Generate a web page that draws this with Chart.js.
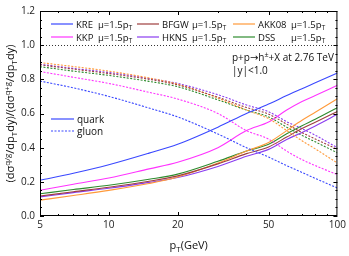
<!DOCTYPE html>
<html>
<head>
<meta charset="utf-8">
<script src="https://cdn.jsdelivr.net/npm/chart.js@4.4.0/dist/chart.umd.min.js"></script>
<style>
  html, body { margin: 0; padding: 0; background: #fff; }
</style>
</head>
<body>
<canvas id="ratioChart" width="349" height="256"></canvas>
<script>
const pT = [5, 7, 10, 15, 20, 30, 40, 50, 60, 70, 80, 100];
const xTickLabels = [5, 10, 20, 50, 100];
const yTickLabels = [0.0, 0.2, 0.4, 0.6, 0.8, 1.0, 1.2];

const pdfNames = ['KRE', 'BFGW', 'AKK08', 'KKP', 'HKNS', 'DSS'];

// quark fraction (solid lines)
const kreQuark   = [0.209, 0.25, 0.30, 0.368, 0.42, 0.52, 0.60, 0.655, 0.705, 0.745, 0.78, 0.837];
const bfgwQuark  = [0.117, 0.142, 0.168, 0.203, 0.235, 0.305, 0.365, 0.404, 0.462, 0.512, 0.549, 0.612];
const akk08Quark = [0.093, 0.12, 0.15, 0.19, 0.228, 0.31, 0.38, 0.43, 0.50, 0.56, 0.607, 0.686];
const kkpQuark   = [0.151, 0.186, 0.222, 0.276, 0.315, 0.40, 0.50, 0.55, 0.62, 0.67, 0.705, 0.765];
const hknsQuark  = [0.112, 0.137, 0.162, 0.197, 0.225, 0.29, 0.35, 0.39, 0.448, 0.489, 0.527, 0.595];
const dssQuark   = [0.13, 0.155, 0.18, 0.215, 0.245, 0.32, 0.38, 0.42, 0.481, 0.528, 0.566, 0.634];

// gluon fraction (dashed lines)
const kreGluon   = [0.79, 0.75, 0.70, 0.632, 0.58, 0.48, 0.40, 0.345, 0.295, 0.255, 0.22, 0.164];
const bfgwGluon  = [0.885, 0.86, 0.834, 0.80, 0.768, 0.695, 0.635, 0.596, 0.538, 0.488, 0.451, 0.39];
const akk08Gluon = [0.898, 0.875, 0.848, 0.808, 0.772, 0.69, 0.62, 0.57, 0.50, 0.44, 0.393, 0.31];
const kkpGluon   = [0.846, 0.812, 0.776, 0.724, 0.685, 0.60, 0.50, 0.45, 0.38, 0.33, 0.295, 0.242];
const hknsGluon  = [0.888, 0.864, 0.84, 0.805, 0.776, 0.71, 0.65, 0.61, 0.552, 0.511, 0.473, 0.40];
const dssGluon   = [0.874, 0.848, 0.823, 0.788, 0.757, 0.68, 0.62, 0.58, 0.52, 0.472, 0.434, 0.37];

const quarkSets = [kreQuark, bfgwQuark, akk08Quark, kkpQuark, hknsQuark, dssQuark];
const gluonSets = [kreGluon, bfgwGluon, akk08Gluon, kkpGluon, hknsGluon, dssGluon];
const pdfColors = ['#3a48ff', '#9e3f3f', '#ff9a3a', '#ff33ff', '#8a3cf0', '#2e8b2e'];

const FONT = '"Open Sans", "DejaVu Sans", sans-serif';

function toPoints(arr) {
  return pT.map((x, i) => ({ x: x, y: arr[i] }));
}

const datasets = [];
pdfNames.forEach((name, i) => {
  datasets.push({
    label: name + ' quark',
    data: toPoints(quarkSets[i]),
    borderColor: pdfColors[i],
    borderWidth: 1.1,
    pointRadius: 0,
    cubicInterpolationMode: 'monotone'
  });
  datasets.push({
    label: name + ' gluon',
    data: toPoints(gluonSets[i]),
    borderColor: pdfColors[i],
    borderWidth: 1.1,
    borderDash: [2, 1.5],
    pointRadius: 0,
    cubicInterpolationMode: 'monotone'
  });
});

// text with sub/superscripts: parts = [[text, ''|'sub'|'sup'], ...]
function richWidth(ctx, parts, size) {
  let w = 0;
  parts.forEach(p => {
    ctx.font = (p[1] ? size * 0.72 : size) + 'px ' + FONT;
    w += ctx.measureText(p[0]).width;
  });
  return w;
}

function drawRich(ctx, parts, x, y, size, align) {
  if (align === 'center') x -= richWidth(ctx, parts, size) / 2;
  ctx.textAlign = 'left';
  ctx.textBaseline = 'alphabetic';
  parts.forEach(p => {
    const dy = p[1] === 'sub' ? size * 0.28 : (p[1] === 'sup' ? -size * 0.38 : 0);
    ctx.font = (p[1] ? size * 0.72 : size) + 'px ' + FONT;
    ctx.fillText(p[0], x, y + dy);
    x += ctx.measureText(p[0]).width;
  });
}

const refLine = {
  id: 'refLine',
  beforeDatasetsDraw(chart) {
    const ctx = chart.ctx, a = chart.chartArea;
    const y = Math.round(chart.scales.y.getPixelForValue(1.0)) + 0.5;
    ctx.save();
    ctx.strokeStyle = '#333';
    ctx.lineWidth = 1;
    ctx.setLineDash([1, 2]);
    ctx.beginPath();
    ctx.moveTo(a.left, y);
    ctx.lineTo(a.right, y);
    ctx.stroke();
    ctx.restore();
  }
};

const decorations = {
  id: 'decorations',
  afterDraw(chart) {
    const ctx = chart.ctx, a = chart.chartArea;
    const xs = chart.scales.x, ys = chart.scales.y;
    ctx.save();
    ctx.strokeStyle = '#000';
    ctx.lineWidth = 1;
    ctx.strokeRect(a.left + 0.5, a.top + 0.5, a.right - a.left - 1, a.bottom - a.top - 1);

    // inward ticks on all four sides
    ctx.beginPath();
    for (let v = 0; v <= 1.2001; v += 0.05) {
      const y = Math.round(ys.getPixelForValue(v)) + 0.5;
      const major = Math.abs(v / 0.2 - Math.round(v / 0.2)) < 1e-6;
      const len = major ? 4 : 2;
      ctx.moveTo(a.left, y); ctx.lineTo(a.left + len, y);
      ctx.moveTo(a.right, y); ctx.lineTo(a.right - len, y);
    }
    const xMinor = [6, 7, 8, 9, 30, 40, 60, 70, 80, 90];
    const xMajor = [10, 20, 50];
    xMinor.concat(xMajor).forEach(v => {
      const x = Math.round(xs.getPixelForValue(v)) + 0.5;
      const len = xMajor.includes(v) ? 4 : 2;
      ctx.moveTo(x, a.bottom); ctx.lineTo(x, a.bottom - len);
      ctx.moveTo(x, a.top); ctx.lineTo(x, a.top + len);
    });
    ctx.stroke();

    ctx.fillStyle = '#111';
    // axis titles
    drawRich(ctx, [['p', ''], ['T', 'sub'], ['(GeV)', '']], (a.left + a.right) / 2, 249, 11, 'center');
    ctx.save();
    ctx.translate(10, (a.top + a.bottom) / 2);
    ctx.rotate(-Math.PI / 2);
    drawRich(ctx, [['(d', ''], ['\u03c3', ''], ['q/g', 'sup'], ['/dp', ''], ['T', 'sub'], ['dy)/(d', ''],
      ['\u03c3', ''], ['q+g', 'sup'], ['/dp', ''], ['T', 'sub'], ['dy)', '']], 0, 4, 11, 'center');
    ctx.restore();

    // PDF legend, 3 columns x 2 rows
    const cols = [[51, 76, 98], [137, 162, 192], [233, 258, 291]];
    const rows = [24, 37];
    pdfNames.forEach((name, i) => {
      const c = cols[i % 3], r = rows[Math.floor(i / 3)];
      ctx.strokeStyle = pdfColors[i];
      ctx.lineWidth = 1.2;
      ctx.setLineDash([]);
      ctx.beginPath();
      ctx.moveTo(c[0], r); ctx.lineTo(c[0] + 22, r);
      ctx.stroke();
      ctx.fillStyle = '#111';
      drawRich(ctx, [[name, '']], c[1], r + 3.5, 9.5, 'left');
      drawRich(ctx, [['\u03bc=1.5p', ''], ['T', 'sub']], c[2], r + 3.5, 9.5, 'left');
    });

    // quark / gluon legend
    [['quark', []], ['gluon', [2, 1.5]]].forEach((q, i) => {
      const r = 119 + i * 12;
      ctx.strokeStyle = pdfColors[0];
      ctx.lineWidth = 1.2;
      ctx.setLineDash(q[1]);
      ctx.beginPath();
      ctx.moveTo(51, r); ctx.lineTo(74, r);
      ctx.stroke();
      ctx.setLineDash([]);
      ctx.fillStyle = '#111';
      drawRich(ctx, [[q[0], '']], 77, r + 3.5, 10, 'left');
    });

    // process annotation
    drawRich(ctx, [['p+p\u2192h', ''], ['\u00b1', 'sup'], ['+X at 2.76 TeV', '']], 232, 61, 10, 'left');
    drawRich(ctx, [['|y|<1.0', '']], 232, 74, 10, 'left');
    ctx.restore();
  }
};

const ratioChart = new Chart(document.getElementById('ratioChart'), {
  type: 'line',
  data: { datasets: datasets },
  options: {
    responsive: false,
    animation: false,
    devicePixelRatio: 1,
    layout: { padding: { left: 0, right: 10, top: 9, bottom: 0 } },
    plugins: {
      legend: { display: false },
      tooltip: { enabled: false }
    },
    scales: {
      x: {
        type: 'logarithmic',
        min: 5,
        max: 100,
        afterBuildTicks: scale => { scale.ticks = xTickLabels.map(v => ({ value: v })); },
        afterFit: scale => { scale.height = 40; },
        ticks: {
          autoSkip: false,
          maxRotation: 0,
          padding: 3,
          color: '#222',
          font: { family: FONT, size: 10 },
          callback: v => String(v)
        },
        grid: { display: false, drawTicks: false },
        border: { display: false }
      },
      y: {
        min: 0,
        max: 1.2,
        afterBuildTicks: scale => { scale.ticks = yTickLabels.map(v => ({ value: v })); },
        afterFit: scale => { scale.width = 40; },
        ticks: {
          padding: 5,
          color: '#222',
          font: { family: FONT, size: 10 },
          callback: v => Number(v).toFixed(1)
        },
        grid: { display: false, drawTicks: false },
        border: { display: false }
      }
    }
  },
  plugins: [refLine, decorations]
});
</script>
</body>
</html>
